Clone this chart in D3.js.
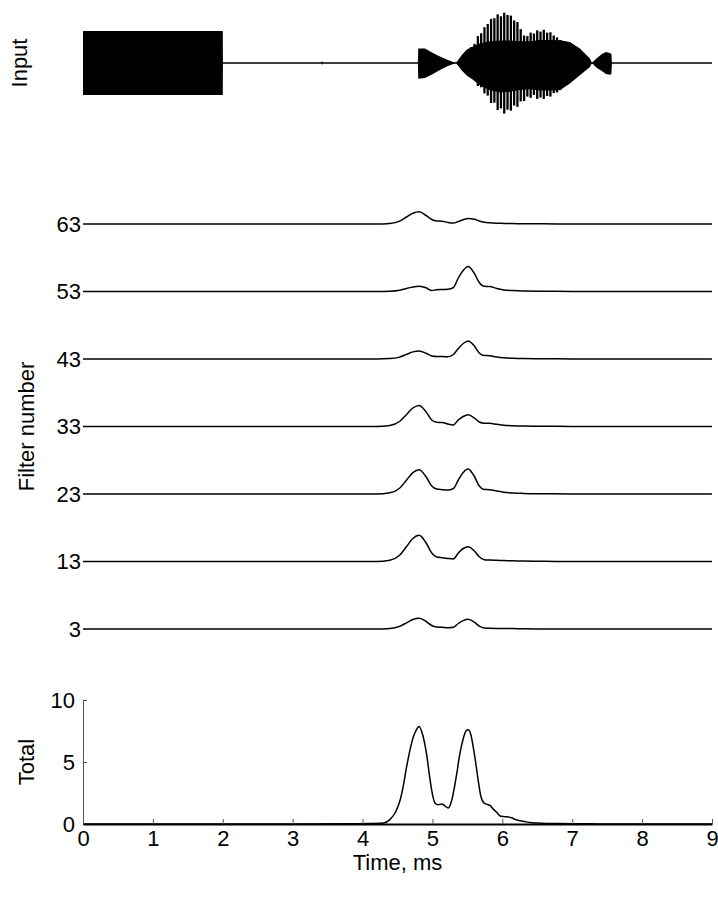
<!DOCTYPE html>
<html>
<head>
<meta charset="utf-8">
<script src="https://cdn.jsdelivr.net/npm/d3@7"></script>
<style>
  html, body { margin: 0; padding: 0; background: #fff; }
  svg { display: block; }
  text { font-family: "Liberation Sans", Arial, Helvetica, sans-serif; fill: #000; }
</style>
</head>
<body>
<svg id="chart" width="718" height="897"></svg>
<script>
// ---- Input signal: solid envelope (amplitude, block level = 1) ----
const inputTime  = [0, 2.0, 2.002, 3.41, 3.42, 3.43, 4.791, 4.797, 4.893, 5.007, 5.107, 5.222, 5.336, 5.422, 5.494, 5.565, 5.680, 5.823, 5.966, 6.109, 6.252, 6.395, 6.538, 6.681, 6.824, 6.967, 7.110, 7.253, 7.282, 7.353, 7.425, 7.482, 7.539, 7.561, 7.568, 9];
const inputUpper = [1, 1, 0, 0, 0.07, 0, 0, 0.45, 0.45, 0.31, 0.20, 0.09, 0, 0.26, 0.42, 0.50, 0.62, 0.68, 0.70, 0.70, 0.68, 0.68, 0.72, 0.72, 0.71, 0.66, 0.45, 0.14, 0, 0.16, 0.28, 0.34, 0.31, 0.28, 0, 0];
const inputLower = [1, 1, 0, 0, 0.07, 0, 0, 0.49, 0.47, 0.34, 0.22, 0.09, 0, 0.24, 0.40, 0.50, 0.70, 0.85, 0.92, 0.90, 0.84, 0.82, 0.86, 0.86, 0.85, 0.64, 0.38, 0.125, 0, 0.16, 0.25, 0.34, 0.37, 0.34, 0, 0];

// ---- Input signal: individual carrier peaks in the loud part ----
const spikeTime   = [5.508, 5.555, 5.602, 5.650, 5.697, 5.744, 5.791, 5.839, 5.886, 5.933, 5.980, 6.027, 6.074, 6.122, 6.169, 6.216, 6.263, 6.311, 6.358, 6.405, 6.452, 6.499, 6.546, 6.593, 6.641, 6.688, 6.735, 6.782, 6.830];
const spikeTop    = [0.41, 0.50, 0.60, 0.84, 0.93, 1.12, 1.22, 1.38, 1.40, 1.52, 1.46, 1.57, 1.50, 1.48, 1.33, 1.28, 1.06, 0.86, 0.84, 0.95, 0.92, 1.02, 0.98, 1.04, 0.95, 0.96, 0.86, 0.80, 0.72];
const spikeBottom = [0.38, 0.46, 0.50, 0.72, 0.76, 0.95, 1.02, 1.25, 1.24, 1.47, 1.42, 1.58, 1.46, 1.49, 1.33, 1.37, 1.20, 1.19, 1.05, 1.09, 1.00, 1.12, 1.08, 1.12, 1.03, 1.05, 0.94, 0.92, 0.84];

// ---- Filter outputs (arbitrary units) on a shared time base, ms ----
const filterTime = [0, 4.2, 4.39, 4.53, 4.63, 4.72, 4.81, 4.91, 4.99, 5.06, 5.14, 5.22, 5.3, 5.37, 5.44, 5.51, 5.6, 5.67, 5.74, 5.82, 5.92, 6.02, 6.15, 6.3, 6.6, 7.0, 9];
const filterIds = [3, 13, 23, 33, 43, 53, 63];
const resp3  = [0, 0, 0.05, 0.26, 0.62, 0.95, 1.07, 0.75, 0.35, 0.20, 0.17, 0.13, 0.18, 0.55, 0.84, 0.97, 0.68, 0.28, 0.10, 0.08, 0.06, 0.05, 0.04, 0.02, 0.01, 0, 0];
const resp13 = [0, 0, 0.13, 0.62, 1.50, 2.30, 2.62, 1.85, 0.85, 0.45, 0.37, 0.30, 0.26, 0.85, 1.30, 1.47, 1.05, 0.48, 0.18, 0.14, 0.12, 0.10, 0.07, 0.04, 0.02, 0.005, 0];
const resp23 = [0, 0, 0.12, 0.58, 1.40, 2.14, 2.43, 1.70, 0.80, 0.50, 0.43, 0.39, 0.55, 1.40, 2.15, 2.50, 1.75, 0.80, 0.45, 0.43, 0.30, 0.18, 0.10, 0.06, 0.03, 0.01, 0];
const resp33 = [0, 0, 0.10, 0.50, 1.20, 1.85, 2.10, 1.45, 0.65, 0.42, 0.40, 0.25, 0.16, 0.65, 1.00, 1.17, 0.85, 0.45, 0.33, 0.32, 0.22, 0.13, 0.08, 0.05, 0.025, 0.01, 0];
const resp43 = [0, 0, 0.04, 0.19, 0.46, 0.71, 0.80, 0.57, 0.30, 0.25, 0.25, 0.22, 0.45, 1.05, 1.55, 1.80, 1.30, 0.60, 0.35, 0.33, 0.20, 0.12, 0.07, 0.04, 0.02, 0.01, 0];
const resp53 = [0, 0, 0.03, 0.13, 0.30, 0.46, 0.53, 0.37, 0.10, 0.17, 0.20, 0.22, 0.40, 1.35, 2.10, 2.50, 1.80, 0.90, 0.52, 0.50, 0.30, 0.16, 0.09, 0.05, 0.03, 0.01, 0];
const resp63 = [0, 0, 0.06, 0.29, 0.70, 1.07, 1.22, 0.85, 0.45, 0.30, 0.28, 0.16, 0.10, 0.25, 0.42, 0.56, 0.48, 0.30, 0.18, 0.12, 0.08, 0.06, 0.04, 0.03, 0.015, 0.005, 0];
const filterResp = [resp3, resp13, resp23, resp33, resp43, resp53, resp63];

// ---- Summed output ----
const totalTime  = [0, 3.0, 3.8, 4.1, 4.3, 4.39, 4.47, 4.535, 4.58, 4.63, 4.68, 4.725, 4.77, 4.81, 4.86, 4.917, 4.96, 4.99, 5.036, 5.08, 5.132, 5.18, 5.226, 5.28, 5.346, 5.39, 5.441, 5.48, 5.512, 5.55, 5.584, 5.62, 5.655, 5.69, 5.727, 5.77, 5.823, 5.87, 5.918, 5.97, 6.013, 6.07, 6.133, 6.19, 6.252, 6.32, 6.395, 6.5, 6.634, 6.8, 7.0, 7.4, 8, 9];
const totalValue = [0, 0, 0.02, 0.04, 0.08, 0.35, 0.95, 1.87, 3.0, 4.6, 6.0, 7.0, 7.6, 7.87, 7.2, 5.6, 3.8, 2.7, 1.7, 1.55, 1.62, 1.45, 1.3, 2.0, 4.0, 5.6, 6.9, 7.5, 7.6, 7.2, 6.2, 4.9, 3.5, 2.3, 1.75, 1.6, 1.5, 1.2, 0.95, 0.65, 0.6, 0.58, 0.5, 0.35, 0.27, 0.2, 0.12, 0.08, 0.05, 0.04, 0.03, 0.01, 0, 0];

const xTicks = [0, 1, 2, 3, 4, 5, 6, 7, 8, 9];
const totalTicks = [0, 5, 10];

// ---- Scales ----
const svg = d3.select("#chart");
const x = d3.scaleLinear().domain([0, 9]).range([83, 712]);
const yIn = d3.scaleLinear().domain([-1, 1]).range([95, 31]);
const yF = d3.scaleLinear().domain([3, 63]).range([629, 224]);
const respPx = d3.scaleLinear().domain([0, 1]).range([0, 10]);
const yT = d3.scaleLinear().domain([0, 10]).range([824, 700]);

const FS = 22;

// ---- Input panel ----
const inputPts = inputTime.map((t, i) => ({ t, hi: inputUpper[i], lo: inputLower[i] }));
svg.append("path")
  .attr("d", d3.line().x(d => x(d)).y(() => yIn(0))([0, 9]))
  .attr("stroke", "#000").attr("stroke-width", 1.6).attr("fill", "none");
svg.append("path")
  .datum(inputPts)
  .attr("d", d3.area().x(d => x(d.t)).y0(d => yIn(-d.lo)).y1(d => yIn(d.hi)))
  .attr("fill", "#000");
svg.append("g").selectAll("line")
  .data(spikeTime.map((t, i) => ({ t, top: spikeTop[i], bot: spikeBottom[i] })))
  .join("line")
  .attr("x1", d => x(d.t)).attr("x2", d => x(d.t))
  .attr("y1", d => yIn(d.top)).attr("y2", d => yIn(-d.bot))
  .attr("stroke", "#000").attr("stroke-width", 2.3);
svg.append("text")
  .attr("transform", `translate(19,${yIn(0)}) rotate(-90)`)
  .attr("text-anchor", "middle").attr("dy", "0.35em")
  .attr("font-size", FS).text("Input");

// ---- Filter bank panel ----
const traceLine = d3.line().curve(d3.curveMonotoneX);
filterIds.forEach((f, k) => {
  const pts = filterTime.map((t, i) => [x(t), yF(f) - respPx(filterResp[k][i])]);
  svg.append("path").attr("d", traceLine(pts))
    .attr("fill", "none").attr("stroke", "#000").attr("stroke-width", 1.5);
});
const fAxis = svg.append("g").attr("transform", "translate(81,0)")
  .call(d3.axisLeft(yF).tickValues(filterIds).tickSize(0).tickPadding(0));
fAxis.select(".domain").remove();
fAxis.selectAll("text").attr("font-size", FS).attr("font-family", null);
svg.append("text")
  .attr("transform", `translate(26,${yF(33)}) rotate(-90)`)
  .attr("text-anchor", "middle").attr("dy", "0.35em")
  .attr("font-size", FS).text("Filter number");

// ---- Total panel ----
const yAxis = svg.append("g").attr("transform", `translate(${x(0)},0)`)
  .call(d3.axisLeft(yT).tickValues(totalTicks).tickSizeInner(-4).tickSizeOuter(0).tickPadding(8));
yAxis.select(".domain").attr("stroke", "#555");
yAxis.selectAll(".tick line").attr("stroke", "#555");
yAxis.selectAll("text").attr("font-size", FS).attr("font-family", null);

svg.append("path")
  .datum(totalTime.map((t, i) => [x(t), yT(totalValue[i])]))
  .attr("d", d3.line().curve(d3.curveMonotoneX))
  .attr("fill", "none").attr("stroke", "#000").attr("stroke-width", 1.5);

const xAxis = svg.append("g").attr("transform", `translate(0,${yT(0)})`)
  .call(d3.axisBottom(x).tickValues(xTicks).tickFormat(d3.format("d")).tickSizeInner(-5).tickSizeOuter(0).tickPadding(6));
xAxis.select(".domain").attr("stroke", "#000").attr("stroke-width", 2);
xAxis.selectAll(".tick line").attr("stroke", "#555");
xAxis.selectAll("text").attr("font-size", FS).attr("font-family", null);

svg.append("text")
  .attr("transform", `translate(26,${yT(5)}) rotate(-90)`)
  .attr("text-anchor", "middle").attr("dy", "0.35em")
  .attr("font-size", FS).text("Total");
svg.append("text")
  .attr("x", (x(0) + x(9)) / 2).attr("y", 870)
  .attr("text-anchor", "middle")
  .attr("font-size", FS).text("Time, ms");
</script>
</body>
</html>
